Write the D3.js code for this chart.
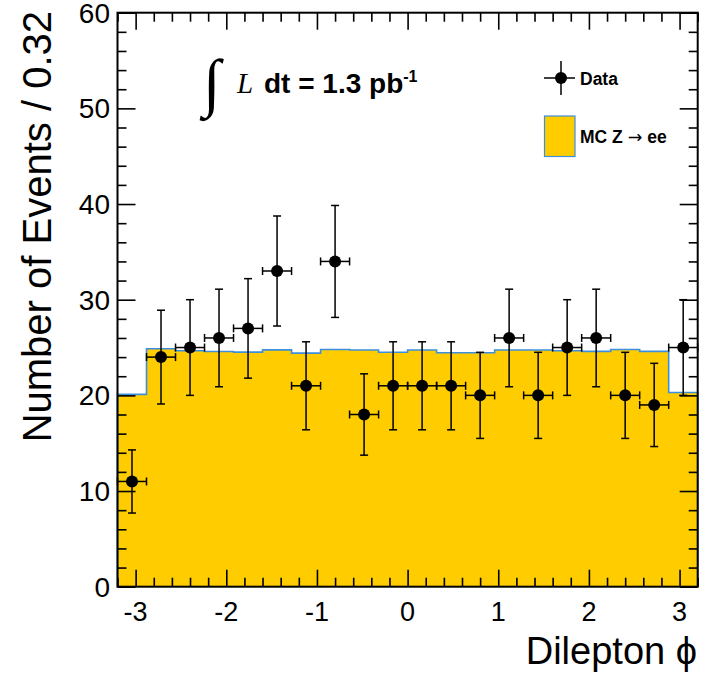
<!DOCTYPE html>
<html>
<head>
<meta charset="utf-8">
<script src="https://cdn.jsdelivr.net/npm/d3@7"></script>
<style>
  html, body { margin: 0; padding: 0; background: #fff; }
  svg { display: block; font-family: "Liberation Sans", Arial, Helvetica, sans-serif; }
</style>
</head>
<body>
<svg id="chart" width="708" height="673"></svg>
<script>
// ---- Data ----
const binEdgesDomain = [-3.2, 3.2];
const binWidth = 0.32;
const binCenters = [-3.04, -2.72, -2.40, -2.08, -1.76, -1.44, -1.12, -0.80, -0.48, -0.16,
                     0.16,  0.48,  0.80,  1.12,  1.44,  1.76,  2.08,  2.40,  2.72,  3.04];
const mcValues = [20.1, 24.87, 24.66, 24.59, 24.52, 24.76, 24.42, 24.8, 24.74, 24.5,
                  24.74, 24.46, 24.46, 24.74, 24.74, 24.67, 24.6, 24.8, 24.6, 20.3];
const dataValues = [11, 24, 25, 26, 27, 33, 21, 34, 18, 21,
                    21, 21, 20, 26, 20, 25, 26, 20, 19, 25];
const dataErrors = [3.3, 4.9, 5.0, 5.1, 5.2, 5.75, 4.6, 5.85, 4.25, 4.6,
                    4.6, 4.6, 4.5, 5.1, 4.5, 5.0, 5.1, 4.5, 4.35, 5.0];
const xTickLabels = ["-3", "-2", "-1", "0", "1", "2", "3"];
const yTickLabels = ["0", "10", "20", "30", "40", "50", "60"];
const yDomain = [0, 60];

// ---- Layout ----
const svg = d3.select("#chart");
const L = 117.5, R = 697.7, T = 12.7, B = 586.7;
const x = d3.scaleLinear().domain(binEdgesDomain).range([L, R]);
const y = d3.scaleLinear().domain(yDomain).range([B, T]);

const fillCol = "#ffcc00", lineCol = "#3c8fdc";

// ---- MC histogram (step) ----
const stepPts = [];
binCenters.forEach((c, i) => {
  stepPts.push([c - binWidth / 2, mcValues[i]]);
  stepPts.push([c + binWidth / 2, mcValues[i]]);
});
const area = d3.area().x(d => x(d[0])).y0(y(0)).y1(d => y(d[1]));
const line = d3.line().x(d => x(d[0])).y(d => y(d[1]));
svg.append("path").datum(stepPts).attr("d", area).attr("fill", fillCol);
const outline = [[binEdgesDomain[0], 0], ...stepPts, [binEdgesDomain[1], 0]];
svg.append("path").datum(outline).attr("d", line)
  .attr("fill", "none").attr("stroke", lineCol).attr("stroke-width", 1.6);

// ---- Axes ----
const frame = svg.append("g");
function axisTicks(scale, values, orient, size) {
  let g;
  if (orient === "bottom") g = d3.axisTop(scale);
  else if (orient === "top") g = d3.axisBottom(scale);
  else if (orient === "left") g = d3.axisRight(scale);
  else g = d3.axisLeft(scale);
  return g.tickValues(values).tickSize(size).tickFormat("").tickSizeOuter(0);
}
const xMajor = d3.range(-3, 3.001, 1);
const xMinor = d3.range(-3.2, 3.201, 0.2).filter(v => Math.abs(v - Math.round(v)) > 1e-6);
const yMajor = d3.range(0, 60.001, 10);
const yMinor = d3.range(0, 60.001, 2).filter(v => v % 10 !== 0);

function addAxis(transform, ax) {
  const g = frame.append("g").attr("transform", transform).call(ax);
  g.select(".domain").remove();
  g.selectAll("line").attr("stroke", "#000").attr("stroke-width", 1.6);
}
addAxis(`translate(0,${B})`, axisTicks(x, xMajor, "bottom", 17));
addAxis(`translate(0,${B})`, axisTicks(x, xMinor, "bottom", 9));
addAxis(`translate(0,${T})`, axisTicks(x, xMajor, "top", 17));
addAxis(`translate(0,${T})`, axisTicks(x, xMinor, "top", 9));
addAxis(`translate(${L},0)`, axisTicks(y, yMajor, "left", 18));
addAxis(`translate(${L},0)`, axisTicks(y, yMinor, "left", 9));
addAxis(`translate(${R},0)`, axisTicks(y, yMajor, "right", 18));
addAxis(`translate(${R},0)`, axisTicks(y, yMinor, "right", 9));

// tick labels
svg.append("g").selectAll("text").data(xMajor).join("text")
  .attr("x", d => x(d)).attr("y", 621)
  .attr("text-anchor", "middle").attr("font-size", 27)
  .text((d, i) => xTickLabels[i]);
svg.append("g").selectAll("text").data(yMajor).join("text")
  .attr("x", 110).attr("y", d => y(d)).attr("dy", "0.36em")
  .attr("text-anchor", "end").attr("font-size", 28)
  .text((d, i) => yTickLabels[i]);

// ---- Data points ----
const dg = svg.append("g").attr("stroke", "#000").attr("stroke-width", 1.5);
const cap = 4;
binCenters.forEach((c, i) => {
  const cx = x(c), cy = y(dataValues[i]);
  const yt = y(dataValues[i] + dataErrors[i]), yb = y(dataValues[i] - dataErrors[i]);
  const xl = x(c - binWidth / 2), xr = x(c + binWidth / 2);
  dg.append("line").attr("x1", cx).attr("x2", cx).attr("y1", yt).attr("y2", yb);
  dg.append("line").attr("x1", cx - cap).attr("x2", cx + cap).attr("y1", yt).attr("y2", yt);
  dg.append("line").attr("x1", cx - cap).attr("x2", cx + cap).attr("y1", yb).attr("y2", yb);
  dg.append("line").attr("x1", xl).attr("x2", xr).attr("y1", cy).attr("y2", cy);
  dg.append("line").attr("x1", xl).attr("x2", xl).attr("y1", cy - cap).attr("y2", cy + cap);
  dg.append("line").attr("x1", xr).attr("x2", xr).attr("y1", cy - cap).attr("y2", cy + cap);
  dg.append("circle").attr("cx", cx).attr("cy", cy).attr("r", 6).attr("fill", "#000").attr("stroke", "none");
});

// frame
svg.append("rect").attr("x", L).attr("y", T).attr("width", R - L).attr("height", B - T)
  .attr("fill", "none").attr("stroke", "#000").attr("stroke-width", 2);

// ---- Titles ----
svg.append("text").attr("transform", `translate(51,11) rotate(-90)`)
  .attr("text-anchor", "end").attr("font-size", 40)
  .text("Number of Events / 0.32");
svg.append("text").attr("x", 697).attr("y", 664)
  .attr("text-anchor", "end").attr("font-size", 38)
  .text("Dilepton ϕ");

// ---- Luminosity label ----
svg.append("text").attr("x", 203).attr("y", 104)
  .style("font-family", "'Liberation Serif', 'DejaVu Serif', serif")
  .attr("font-size", 64).text("∫");
svg.append("text").attr("x", 237).attr("y", 93)
  .style("font-family", "'Liberation Serif', 'DejaVu Serif', serif")
  .attr("font-style", "italic").attr("font-size", 29).text("L");
const lumi = svg.append("text").attr("x", 264).attr("y", 93)
  .attr("font-weight", "bold").attr("font-size", 28);
lumi.append("tspan").text("dt = 1.3 pb");
lumi.append("tspan").attr("dy", -11).attr("font-size", 16).text("-1");

// ---- Legend ----
const lg = svg.append("g");
lg.append("line").attr("x1", 544).attr("x2", 575).attr("y1", 78).attr("y2", 78).attr("stroke", "#000").attr("stroke-width", 1.5);
lg.append("line").attr("x1", 561).attr("x2", 561).attr("y1", 61).attr("y2", 95).attr("stroke", "#000").attr("stroke-width", 1.5);
lg.append("circle").attr("cx", 561).attr("cy", 78).attr("r", 6).attr("fill", "#000");
lg.append("text").attr("x", 580).attr("y", 84.5).attr("font-weight", "bold").attr("font-size", 17.5).text("Data");
lg.append("rect").attr("x", 544.5).attr("y", 116).attr("width", 30.5).attr("height", 40.5)
  .attr("fill", fillCol).attr("stroke", lineCol).attr("stroke-width", 1.2);
const mcText = lg.append("text").attr("x", 580).attr("y", 143).attr("font-weight", "bold").attr("font-size", 17.5);
mcText.append("tspan").text("MC Z ");
mcText.append("tspan").style("font-family", "'DejaVu Sans', sans-serif").attr("font-weight", "normal").text("→");
mcText.append("tspan").text(" ee");
</script>
</body>
</html>
